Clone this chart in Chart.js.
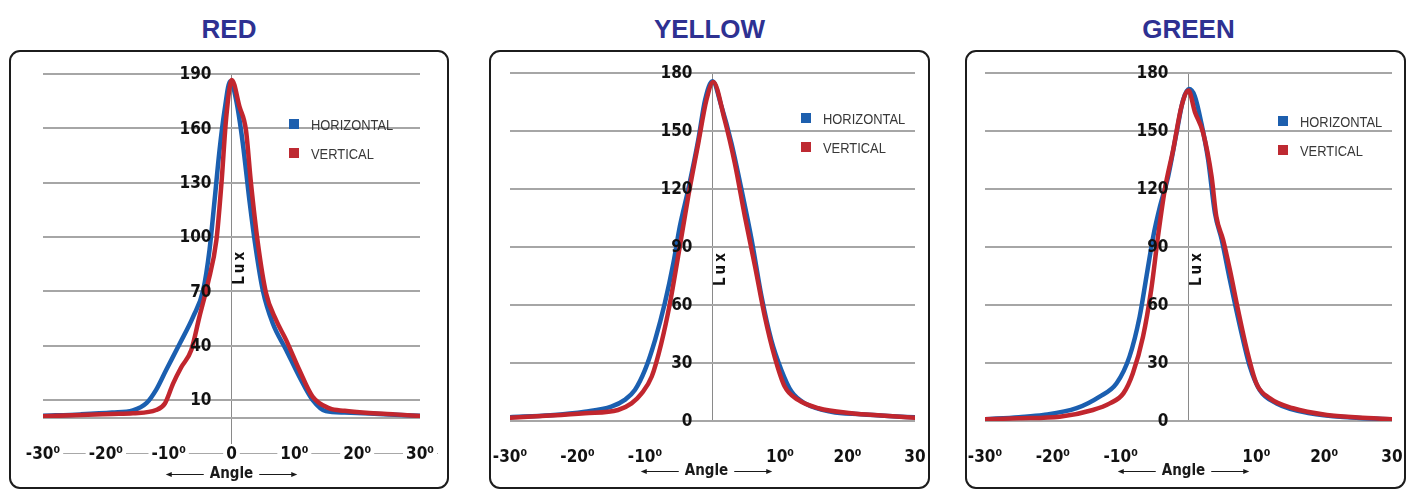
<!DOCTYPE html>
<html>
<head>
<meta charset="utf-8">
<script src="https://cdn.jsdelivr.net/npm/chart.js@4.4.1/dist/chart.umd.min.js"></script>
<style>
  body { margin: 0; background: #fff; width: 1413px; height: 498px; position: relative; overflow: hidden; }
  .titulo { position: absolute; top: 14px; height: 30px; line-height: 30px; text-align: center;
            font: bold 26px "Liberation Sans", Arial, sans-serif; color: #2e3192; }
  .panel { position: absolute; top: 50px; width: 441px; height: 439px; box-sizing: border-box;
           border: 2px solid #1c1c1c; border-radius: 11px; }
  canvas { position: absolute; top: 50px; }
  .item { position: absolute; display: flex; align-items: center; height: 12px;
          font: 15px "Liberation Sans Narrow", "Liberation Sans", sans-serif; color: #383838; }
  .item span.txt { display: inline-block; transform: scaleX(0.86); transform-origin: left center; }
  .cuadro { width: 10px; height: 10px; margin-right: 12px; }
</style>
</head>
<body>

<div class="titulo" style="left:9px;width:440px">RED</div>
<div class="titulo" style="left:489px;width:441px">YELLOW</div>
<div class="titulo" style="left:965px;width:447px">GREEN</div>

<div class="panel" style="left:9px;width:440px"></div>
<div class="panel" style="left:489px"></div>
<div class="panel" style="left:965px"></div>

<canvas id="grafRojo" width="440" height="439" style="left:9px"></canvas>
<canvas id="grafAmarillo" width="441" height="439" style="left:489px"></canvas>
<canvas id="grafVerde" width="441" height="439" style="left:965px"></canvas>

<div class="item" style="left:289px;top:118px"><span class="cuadro" style="background:#1d5fae"></span><span class="txt">HORIZONTAL</span></div>
<div class="item" style="left:289px;top:147px"><span class="cuadro" style="background:#be2a32"></span><span class="txt">VERTICAL</span></div>
<div class="item" style="left:801px;top:112px"><span class="cuadro" style="background:#1d5fae"></span><span class="txt">HORIZONTAL</span></div>
<div class="item" style="left:801px;top:141px"><span class="cuadro" style="background:#be2a32"></span><span class="txt">VERTICAL</span></div>
<div class="item" style="left:1278px;top:115px"><span class="cuadro" style="background:#1d5fae"></span><span class="txt">HORIZONTAL</span></div>
<div class="item" style="left:1278px;top:144px"><span class="cuadro" style="background:#be2a32"></span><span class="txt">VERTICAL</span></div>

<script>
// Datos (ángulo en grados, iluminancia en lux)
const valoresAngulo = [-30, -20, -10, 0, 10, 20, 30];
const etiquetasRojo = ['-30⁰', '-20⁰', '-10⁰', '0', '10⁰', '20⁰', '30⁰'];
const etiquetasOtros = ['-30⁰', '-20⁰', '-10⁰', '', '10⁰', '20⁰', '30'];
const ticksRojo = [0, 10, 40, 70, 100, 130, 160, 190];
const ticksOtros = [0, 30, 60, 90, 120, 150, 180];

// RED
const rojoHAngulo = [-30, -24, -19, -15.7, -13.5, -12, -10.4, -8.25, -6.1, -4.5, -3.5, -2.7, -1.9, -1.1, -0.2, 0.74, 1.8, 2.86, 3.9, 4.97, 6.56, 8.7, 10.8, 12.9, 15, 18, 22, 26, 30];
const rojoHLux = [1.2, 2, 3, 4.2, 8.3, 15.5, 26.5, 41, 56, 70.7, 92.8, 120, 148, 170, 186, 175.6, 151.7, 120, 92.8, 70.7, 52.3, 37.6, 22.8, 10, 3.8, 3, 2.5, 1.8, 1.2];
const rojoVAngulo = [-30, -24, -19, -15.7, -12, -10.6, -9.3, -8, -6.4, -5.1, -3.76, -2.4, -1.6, -0.84, 0.05, 1.27, 2.3, 3.1, 4.2, 5.5, 7.1, 8.7, 10.8, 12.9, 15.6, 18, 21.4, 26, 30];
const rojoVLux = [1, 1.6, 2.2, 2.6, 4.4, 8, 19, 28, 37.6, 56, 74.4, 98.3, 129.6, 166, 186.7, 172, 159, 129.6, 96.5, 68.9, 54, 43, 26.5, 11.8, 5.3, 4, 2.9, 2, 1.1];

// YELLOW
const amarilloHAngulo = [-30, -24, -18.9, -15, -13, -11.5, -10, -8.5, -7.06, -5.8, -4.84, -3.6, -2.1, -1.1, 0, 1.33, 2.8, 4.3, 5.8, 7.26, 8.7, 10.2, 11.7, 13.7, 17.6, 22, 26, 30];
const amarilloHLux = [2, 3, 4.8, 7.4, 10.9, 16, 26.4, 42, 61, 81.6, 100.6, 119.6, 145.5, 166, 175.7, 162.7, 143.8, 119.6, 93.7, 64.4, 42, 26.4, 15.2, 9.1, 4.8, 3.5, 2.6, 1.9];
const amarilloVAngulo = [-30, -24, -18.9, -14, -12, -10.5, -9, -7.6, -6.3, -5.1, -3.6, -2.1, -0.9, 0.1, 1.8, 3.3, 4.8, 6.3, 7.75, 9.2, 10.7, 12.7, 15.7, 20.6, 25, 30];
const amarilloVLux = [1.7, 2.8, 4, 5.7, 9.1, 14.3, 23, 40, 61, 85, 116, 143.8, 166, 175.4, 155.8, 133.4, 105.8, 80, 54, 33.3, 17.8, 10.9, 6.6, 4, 2.8, 1.7];

// GREEN
const verdeHAngulo = [-30, -25, -21.4, -16.5, -13.1, -10.6, -8.7, -7.2, -6.2, -5.2, -4.2, -3, -1.77, -0.8, 0.1, 0.93, 1.9, 2.9, 3.9, 4.9, 6.1, 7.6, 9.05, 10.5, 13, 17.9, 24, 30];
const verdeHLux = [0.9, 2, 3.1, 6.6, 12.6, 19.5, 33.3, 54, 74.7, 95.4, 111, 126.5, 149, 166, 171.7, 168, 154, 135, 107.5, 93.7, 73, 48.8, 28.1, 16, 9.1, 4, 1.8, 0.9];
const verdeVAngulo = [-30, -25, -19, -14.1, -11.6, -9.6, -8.2, -6.7, -5.5, -4.5, -3.5, -2.26, -1.03, 0, 0.93, 2.16, 3.4, 4.1, 5.1, 6.1, 7.3, 8.6, 10, 12, 15.4, 20.4, 25, 30];
const verdeVLux = [0.9, 1.4, 2.2, 5.7, 9.1, 14.3, 24.7, 43.7, 67.8, 95.4, 119.6, 140.3, 162.8, 171, 160, 149, 126.5, 105.8, 93.7, 78.2, 57.5, 36.8, 19.5, 11.7, 6.6, 3.1, 1.8, 0.9];

const COLOR_H = '#1b5fb0';
const COLOR_V = '#c1262e';
const FUENTE = '"DejaVu Sans Condensed", "DejaVu Sans", sans-serif';

function serie(angulos, lux) {
  return angulos.map((a, i) => ({ x: a, y: lux[i] }));
}

function flecha(ctx, x1, x2, y) {
  const dir = Math.sign(x2 - x1);
  ctx.beginPath();
  ctx.moveTo(x1, y);
  ctx.lineTo(x2 - dir * 4, y);
  ctx.stroke();
  ctx.beginPath();
  ctx.moveTo(x2, y);
  ctx.lineTo(x2 - dir * 6, y - 2.5);
  ctx.lineTo(x2 - dir * 6, y + 2.5);
  ctx.closePath();
  ctx.fill();
}

// Etiquetas del eje Y junto a la línea central, texto "Lux" y "Angle" con flechas
const etiquetasCentro = {
  id: 'etiquetasCentro',
  beforeDraw(chart, args, o) {
    if (!o.lineaEtiquetas) return;
    const { ctx, chartArea } = chart;
    ctx.save();
    ctx.strokeStyle = '#a8a8a8';
    ctx.lineWidth = 1;
    ctx.beginPath();
    ctx.moveTo(chartArea.left - 20, chartArea.bottom + 35.5);
    ctx.lineTo(chartArea.right + 18, chartArea.bottom + 35.5);
    ctx.stroke();
    ctx.restore();
  },
  afterDatasetsDraw(chart, args, o) {
    const { ctx, chartArea, scales: { x, y } } = chart;
    const x0 = x.getPixelForValue(0);
    ctx.save();
    ctx.fillStyle = '#111';
    ctx.font = 'bold 17px ' + FUENTE;
    ctx.textAlign = 'right';
    ctx.textBaseline = 'middle';
    y.ticks.forEach(t => {
      if (o.ocultarCero && t.value === 0) return;
      ctx.fillText(String(t.value), x0 - 20, y.getPixelForValue(t.value) + 1);
    });
    ctx.translate(x0 + 9, chartArea.top + chartArea.height * 0.565);
    ctx.rotate(-Math.PI / 2);
    ctx.font = 'bold 15px ' + FUENTE;
    ctx.letterSpacing = '3px';
    ctx.textAlign = 'center';
    ctx.fillText('Lux', 1.5, 0);
    ctx.restore();
  },
  afterDraw(chart, args, o) {
    const { ctx, chartArea, scales: { x } } = chart;
    const xc = x.getPixelForValue(0) + o.desplazAngle;
    const yA = chartArea.bottom + o.bajoAngle;
    ctx.save();
    ctx.fillStyle = '#1a1a1a';
    ctx.strokeStyle = '#1a1a1a';
    ctx.lineWidth = 1;
    ctx.font = 'bold 15px ' + FUENTE;
    ctx.textAlign = 'center';
    ctx.textBaseline = 'middle';
    ctx.fillText('Angle', xc, yA);
    const w = ctx.measureText('Angle').width / 2 + 6;
    flecha(ctx, xc - w, xc - w - 38, yA + 0.5);
    flecha(ctx, xc + w, xc + w + 38, yA + 0.5);
    ctx.restore();
  }
};

function crearGrafico(idCanvas, p) {
  const ctx = document.getElementById(idCanvas).getContext('2d');
  const colorCentro = c => (c.tick && c.tick.value === 0 ? '#8a8a8a' : 'transparent');
  return new Chart(ctx, {
    type: 'line',
    data: {
      datasets: [
        { label: 'HORIZONTAL', data: serie(p.angH, p.luxH), borderColor: COLOR_H, order: 2 },
        { label: 'VERTICAL', data: serie(p.angV, p.luxV), borderColor: COLOR_V, order: 1 }
      ]
    },
    options: {
      responsive: false,
      animation: false,
      elements: {
        line: { borderWidth: 4.5, cubicInterpolationMode: 'monotone', borderCapStyle: 'round', borderJoinStyle: 'round', fill: false },
        point: { radius: 0 }
      },
      layout: { padding: p.padding },
      plugins: {
        legend: { display: false },
        tooltip: { enabled: false },
        etiquetasCentro: p.extra
      },
      scales: {
        x: {
          type: 'linear',
          min: -30,
          max: 30,
          afterBuildTicks: s => { s.ticks = valoresAngulo.map(v => ({ value: v })); },
          afterFit: s => { s.height = p.altoEje; },
          border: { display: false },
          grid: {
            color: colorCentro,
            // solo el gráfico rojo prolonga la línea central hasta la etiqueta 0
            tickColor: p.marcaCentro ? colorCentro : 'transparent',
            lineWidth: 1,
            drawTicks: true,
            tickLength: 26
          },
          ticks: {
            autoSkip: false,
            maxRotation: 0,
            padding: 0,
            color: '#111',
            font: { family: FUENTE, weight: 'bold', size: 17 },
            callback: (v, i) => p.etiquetasX[i],
            showLabelBackdrop: p.marcaCentro,
            backdropColor: '#fff',
            backdropPadding: { x: 3, y: 0 }
          }
        },
        y: {
          min: 0,
          max: p.maxY,
          afterBuildTicks: s => { s.ticks = p.ticksY.map(v => ({ value: v })); },
          afterFit: s => { s.width = 0; },
          border: { display: false },
          grid: { color: '#a6a6a6', lineWidth: 2, drawTicks: false },
          ticks: { display: false }
        }
      }
    },
    plugins: [etiquetasCentro]
  });
}

crearGrafico('grafRojo', {
  angH: rojoHAngulo, luxH: rojoHLux, angV: rojoVAngulo, luxV: rojoVLux,
  ticksY: ticksRojo, maxY: 190, etiquetasX: etiquetasRojo,
  padding: { left: 34, right: 29, top: 24, bottom: 0 }, altoEje: 71, marcaCentro: true,
  extra: { ocultarCero: true, lineaEtiquetas: true, desplazAngle: 0, bajoAngle: 56 }
});

crearGrafico('grafAmarillo', {
  angH: amarilloHAngulo, luxH: amarilloHLux, angV: amarilloVAngulo, luxV: amarilloVLux,
  ticksY: ticksOtros, maxY: 180, etiquetasX: etiquetasOtros,
  padding: { left: 21, right: 15, top: 23, bottom: 0 }, altoEje: 68, marcaCentro: false,
  extra: { ocultarCero: false, lineaEtiquetas: false, desplazAngle: -6, bajoAngle: 50 }
});

crearGrafico('grafVerde', {
  angH: verdeHAngulo, luxH: verdeHLux, angV: verdeVAngulo, luxV: verdeVLux,
  ticksY: ticksOtros, maxY: 180, etiquetasX: etiquetasOtros,
  padding: { left: 20, right: 14, top: 23, bottom: 0 }, altoEje: 68, marcaCentro: false,
  extra: { ocultarCero: false, lineaEtiquetas: false, desplazAngle: -5, bajoAngle: 50 }
});
</script>
</body>
</html>
